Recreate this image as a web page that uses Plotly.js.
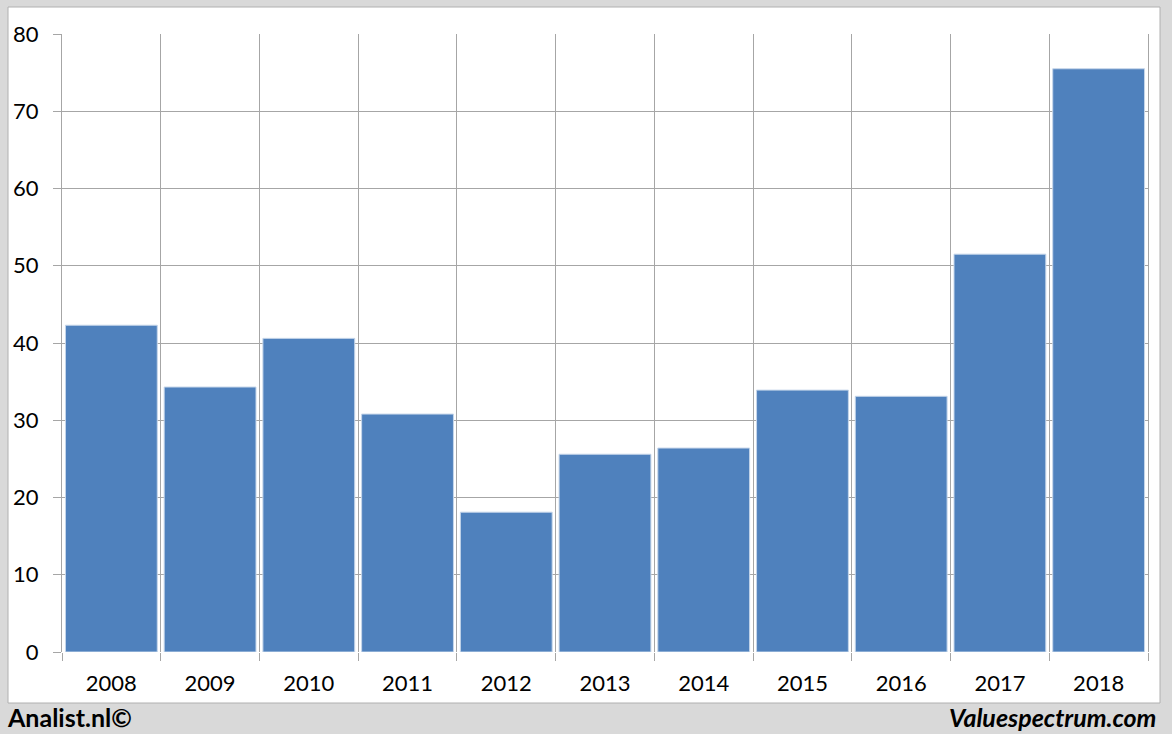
<!DOCTYPE html>
<html>
<head>
<meta charset="utf-8">
<script src="https://cdn.plot.ly/plotly-3.0.1.min.js"></script>
<style>html,body{margin:0;padding:0;background:#d9d9d9;}#chart{width:1172px;height:734px;}</style>
</head>
<body>
<div id="chart"></div>
<script>
const years = [2008, 2009, 2010, 2011, 2012, 2013, 2014, 2015, 2016, 2017, 2018];
const values = [42.3, 34.3, 40.6, 30.8, 18.1, 25.6, 26.4, 33.9, 33.1, 51.5, 75.5];
const yTicks = [0, 10, 20, 30, 40, 50, 60, 70, 80];

const W = 1172, H = 734;
const L = 62, R = 24, T = 34, B = 82;
const pw = W - L - R, ph = H - T - B;
const px = v => (v - L) / pw;
const py = v => (H - B - v) / ph;

const font = "Lato, 'Open Sans', sans-serif";

Plotly.newPlot('chart', [{
  type: 'bar',
  x: years,
  y: values,
  width: 0.93,
  marker: {color: '#4f81bd', line: {color: '#c6d6ea', width: 1}},
  hoverinfo: 'none'
}], {
  width: W, height: H,
  margin: {l: L, r: R, t: T, b: B, pad: 0},
  paper_bgcolor: '#d9d9d9',
  plot_bgcolor: '#ffffff',
  showlegend: false,
  xaxis: {
    type: 'linear',
    range: [years[0] - 0.5, years[years.length - 1] + 0.5],
    tickvals: years,
    ticktext: years.map(String),
    ticks: '',
    showgrid: false,
    zeroline: false,
    showline: false,
    ticklabelstandoff: 16,
    tickfont: {family: font, size: 22, color: '#000'},
    minor: {tickmode: 'linear', tick0: years[0] - 0.5, dtick: 1, showgrid: true, gridcolor: '#a6a6a6', gridwidth: 1, ticks: 'outside', ticklen: 8, tickcolor: '#a6a6a6', tickwidth: 1},
    fixedrange: true
  },
  yaxis: {
    range: [0, 80],
    tickvals: yTicks,
    ticks: 'outside',
    ticklen: 8,
    tickcolor: '#a6a6a6',
    showgrid: true,
    gridcolor: '#a6a6a6',
    gridwidth: 1,
    zeroline: false,
    showline: true,
    mirror: true,
    linecolor: '#a6a6a6',
    linewidth: 1,
    ticklabelstandoff: 10,
    tickfont: {family: font, size: 22, color: '#000'},
    fixedrange: true
  },
  shapes: [{
    type: 'rect', xref: 'paper', yref: 'paper', layer: 'below',
    x0: px(8), x1: px(1160), y0: py(703), y1: py(7),
    fillcolor: '#ffffff', line: {color: '#b0b0b0', width: 1}
  }],
  annotations: [{
    xref: 'paper', yref: 'paper', x: px(5), y: py(717), xanchor: 'left', yanchor: 'middle',
    text: '<b>Analist.nl©</b>', showarrow: false,
    font: {family: font, size: 25, color: '#000'}
  }, {
    xref: 'paper', yref: 'paper', x: px(1158), y: py(717), xanchor: 'right', yanchor: 'middle',
    text: '<b><i>Valuespectrum.com</i></b>', showarrow: false,
    font: {family: font, size: 25, color: '#000'}
  }]
}, {displayModeBar: false, staticPlot: true});
</script>
</body>
</html>
